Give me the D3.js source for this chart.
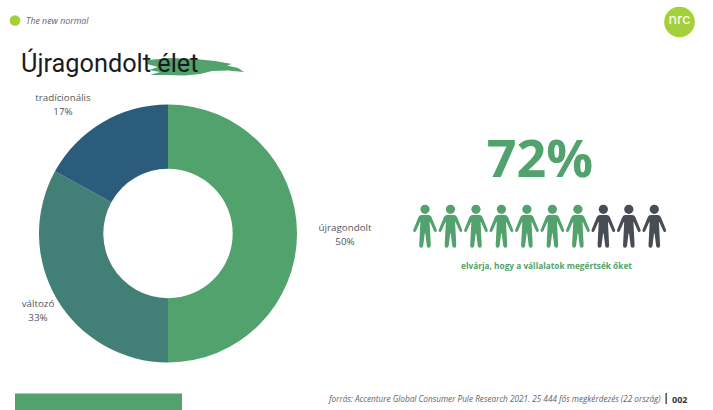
<!DOCTYPE html>
<html lang="hu">
<head>
<meta charset="utf-8">
<title>Újragondolt élet</title>
<script src="https://cdnjs.cloudflare.com/ajax/libs/d3/7.8.5/d3.min.js"></script>
<style>
  html, body { margin: 0; padding: 0; background: #fff; }
  svg { display: block; }
  text { font-family: "Open Sans", sans-serif; }
</style>
</head>
<body>
<svg id="chart" width="713" height="410"></svg>
<script>
// Attitude shares shown in the donut
const segments = ["újragondolt", "változó", "tradícionális"];
const shares = [50, 33, 17];
const segmentColors = ["#52a26d", "#427f76", "#2b5c7c"];

// Pictogram: 72% rounds to 7 of 10 figures
const headline = 72;
const figuresTotal = [0, 1, 2, 3, 4, 5, 6, 7, 8, 9];
const figuresHighlighted = 7;

const svg = d3.select("#chart");
const GREEN = "#52a26d";

// Header marker and section name
svg.append("circle").attr("cx", 15).attr("cy", 20.5).attr("r", 5.3).attr("fill", "#a4d13a");
svg.append("text").attr("x", 26).attr("y", 24)
  .attr("font-size", 8.8).attr("font-style", "italic").attr("fill", "#5b5f78")
  .text("The new normal");

// Logo badge
const logo = svg.append("g").attr("transform", "translate(679.5,22)");
logo.append("circle").attr("r", 15.3).attr("fill", "#a4d13a");
logo.append("text").attr("text-anchor", "middle").attr("y", 1.5)
  .attr("font-size", 14.5).attr("font-weight", 400).attr("fill", "#fff")
  .style("font-family", "Inter, sans-serif").text("nrc");

// Brush stroke behind the title
svg.append("path")
  .attr("fill", GREEN)
  .attr("d", "M148,60 L170,58 L195,59 L215,61 L232,64 L227,65.5 L238,68 L244,72 L228,70.5 L212,71 L200,74 L185,75.5 L165,75 L150,75 L160,72 L149,70 L158,67 L147,64 Z");

svg.append("text").attr("x", 21).attr("y", 72)
  .attr("font-size", 25.3).attr("fill", "#1b1b1f")
  .style("font-family", "Roboto, sans-serif")
  .text("Újragondolt élet");

// Donut
const cx = 168, cy = 233.5, outerR = 129, innerR = 64.7;
const pie = d3.pie().sort(null)(shares);
const arc = d3.arc().innerRadius(innerR).outerRadius(outerR);
const donut = svg.append("g").attr("transform", `translate(${cx},${cy})`);
donut.selectAll("path").data(pie).join("path")
  .attr("d", arc)
  .attr("fill", (d, i) => segmentColors[i]);

// Donut labels sit just outside the ring, one per segment
const labelAnchors = [[345, 227], [38, 303], [63, 97]];
const labels = svg.append("g").selectAll("text").data(segments).join("text")
  .attr("text-anchor", "middle")
  .attr("font-size", 9.8)
  .attr("fill", "#55565c");
labels.append("tspan")
  .attr("x", (d, i) => labelAnchors[i][0])
  .attr("y", (d, i) => labelAnchors[i][1] + 4)
  .text(d => d);
labels.append("tspan")
  .attr("x", (d, i) => labelAnchors[i][0])
  .attr("y", (d, i) => labelAnchors[i][1] + 18)
  .text((d, i) => shares[i] + "%");

// Headline figure
svg.append("text").attr("x", 540).attr("y", 177)
  .attr("text-anchor", "middle")
  .attr("font-size", 52).attr("font-weight", 700).attr("fill", GREEN)
  .text(headline + "%");

// Row of person pictograms
const xFigure = d3.scalePoint().domain(figuresTotal).range([425, 654.3]);
const personBody = "M-3.5,-10 L3.5,-10 Q5.5,-10 6.5,-8 L11.8,5 Q12.2,6.6 10.8,7 Q9.6,7.3 9,6 L5,-3 L4.6,-3 L5.8,20.5 Q5.8,22.7 3.8,22.7 Q2,22.7 1.8,20.7 L0.3,8.5 L-0.3,8.5 L-1.8,20.7 Q-2,22.7 -3.8,22.7 Q-5.8,22.7 -5.8,20.5 L-4.6,-3 L-5,-3 L-9,6 Q-9.6,7.3 -10.8,7 Q-12.2,6.6 -11.8,5 L-6.5,-8 Q-5.5,-10 -3.5,-10 Z";
const people = svg.append("g").selectAll("g").data(figuresTotal).join("g")
  .attr("transform", d => `translate(${xFigure(d)},225)`)
  .attr("fill", d => d < figuresHighlighted ? GREEN : "#474c55");
people.append("circle").attr("cy", -15.7).attr("r", 4.6);
people.append("path").attr("d", personBody);

svg.append("text").attr("x", 546.5).attr("y", 269)
  .attr("text-anchor", "middle")
  .attr("font-size", 8.3).attr("font-weight", 700).attr("fill", GREEN)
  .text("elvárja, hogy a vállalatok megértsék őket");

// Footer band, source line and page number
svg.append("rect").attr("x", 15).attr("y", 393.5).attr("width", 167).attr("height", 16.5).attr("fill", GREEN);
svg.append("text").attr("transform", "translate(329,402) scale(0.955,1)")
  .attr("font-size", 8.6).attr("font-style", "italic").attr("fill", "#62646e")
  .text("forrás: Accenture Global Consumer Pule Research 2021. 25 444 fős megkérdezés (22 ország)");
svg.append("rect").attr("x", 665.5).attr("y", 393).attr("width", 1.3).attr("height", 11).attr("fill", "#33353d");
svg.append("text").attr("x", 672).attr("y", 402.5)
  .attr("font-size", 9).attr("font-weight", 700).attr("fill", "#33353d")
  .text("002");
</script>
</body>
</html>
